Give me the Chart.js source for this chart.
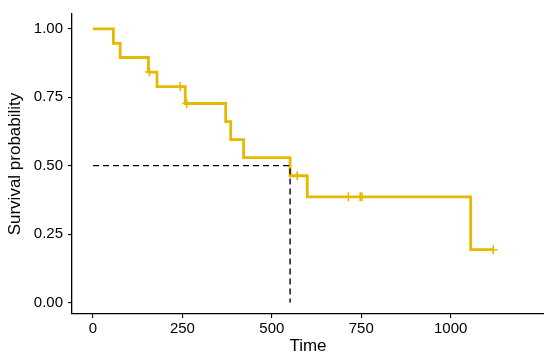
<!DOCTYPE html>
<html>
<head>
<meta charset="utf-8">
<script src="https://cdn.jsdelivr.net/npm/chart.js@4"></script>
<style>
  html, body { margin: 0; padding: 0; background: #fff; }
  #wrap { width: 550px; height: 361px; }
</style>
</head>
<body>
<div id="wrap"><canvas id="c" width="550" height="361"></canvas></div>
<script>
// Kaplan-Meier step points (time, survival after event)
const eventTimes = [0, 57, 76, 155, 179, 258, 371, 385, 421, 551, 599, 1056, 1119];
const survival   = [1.000, 0.947, 0.895, 0.842, 0.789, 0.727, 0.661, 0.595, 0.529, 0.463, 0.386, 0.193, 0.193];
// Censored observations
const censorTimes = [158, 244, 262, 571, 714, 747, 752, 1119];
const censorSurv  = [0.842, 0.789, 0.727, 0.463, 0.386, 0.386, 0.386, 0.193];
// Median survival reference
const medianTime = 551;
const medianLevel = 0.5;
// Axis ticks
const xTicks = [0, 250, 500, 750, 1000];
const yTicks = [0, 0.25, 0.5, 0.75, 1.0];

const curveColor = '#E7B800';
const fontFamily = '"Liberation Sans", Arial, Helvetica, sans-serif';

const curveData = eventTimes.map((t, i) => ({ x: t, y: survival[i] }));
const censorData = censorTimes.map((t, i) => ({ x: t, y: censorSurv[i] }));
const medianData = [
  { x: 0, y: medianLevel },
  { x: medianTime, y: medianLevel },
  { x: medianTime, y: 0 }
];

new Chart(document.getElementById('c'), {
  type: 'line',
  data: {
    datasets: [
      {
        label: 'median',
        data: medianData,
        borderColor: '#000',
        borderWidth: 1.4,
        borderDash: [6, 4],
        pointRadius: 0,
        fill: false,
        tension: 0,
        order: 0
      },
      {
        label: 'censor',
        data: censorData,
        showLine: false,
        pointStyle: 'cross',
        pointRadius: 4.5,
        pointBorderWidth: 1.6,
        pointBorderColor: curveColor,
        pointBackgroundColor: curveColor,
        order: 1
      },
      {
        label: 'survival',
        data: curveData,
        stepped: 'before',
        borderColor: curveColor,
        borderWidth: 2.8,
        pointRadius: 0,
        fill: false,
        order: 2
      }
    ]
  },
  options: {
    responsive: false,
    animation: false,
    events: [],
    layout: { padding: { left: 0, right: 6, top: 8, bottom: 0 } },
    plugins: { legend: { display: false }, tooltip: { enabled: false } },
    scales: {
      x: {
        type: 'linear',
        min: -58.7,
        max: 1260.6,
        afterBuildTicks: (s) => { s.ticks = xTicks.map(v => ({ value: v })); },
        afterFit: (s) => { s.height = 47; },
        border: { display: true, color: '#000', width: 1.3 },
        grid: { drawOnChartArea: false, drawTicks: true, tickLength: 4, color: '#000', lineWidth: 1.1 },
        ticks: {
          color: '#000',
          padding: 2,
          maxRotation: 0,
          font: { family: fontFamily, size: 15 },
          callback: (v) => String(v)
        },
        title: {
          display: true,
          text: 'Time',
          color: '#000',
          font: { family: fontFamily, size: 17 },
          padding: { top: 0, bottom: 4 }
        }
      },
      y: {
        type: 'linear',
        min: -0.042,
        max: 1.054,
        afterBuildTicks: (s) => { s.ticks = yTicks.map(v => ({ value: v })); },
        afterFit: (s) => { s.width = 72; },
        border: { display: true, color: '#000', width: 1.3 },
        grid: { drawOnChartArea: false, drawTicks: true, tickLength: 4, color: '#000', lineWidth: 1.1 },
        ticks: {
          color: '#000',
          padding: 5,
          font: { family: fontFamily, size: 15 },
          callback: (v) => Number(v).toFixed(2)
        },
        title: {
          display: true,
          text: 'Survival probability',
          color: '#000',
          font: { family: fontFamily, size: 17 },
          padding: { top: 5, bottom: 0 }
        }
      }
    }
  }
});
</script>
</body>
</html>
